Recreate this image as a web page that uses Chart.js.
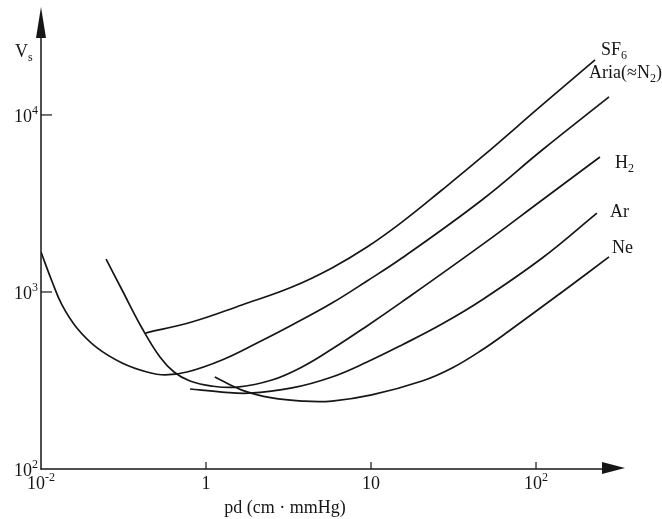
<!DOCTYPE html>
<html>
<head>
<meta charset="utf-8">
<script src="https://cdn.jsdelivr.net/npm/chart.js@4.4.1/dist/chart.umd.min.js"></script>
<style>
  html, body { margin: 0; padding: 0; background: #fff; }
  #wrap { width: 662px; height: 519px; position: relative; }
</style>
</head>
<body>
<div id="wrap"><canvas id="paschen" width="662" height="519"></canvas></div>
<script>
// Paschen curves: breakdown voltage Vs against pd (cm · mmHg), log-log axes.

// Tick labels ("^" marks the exponent)
const xTickValues = [0.1, 1, 10, 100];
const xTickLabels = ['10^-2', '1', '10', '10^2'];
const yTickValues = [100, 1000, 10000];
const yTickLabels = ['10^2', '10^3', '10^4'];

// Gas names ("_" marks a subscript)
const gasNames = ['SF_6', 'Aria(≈N_2)', 'H_2', 'Ar', 'Ne'];

// pd (cm · mmHg) and Vs (V) for each gas
const pdSF6 = [0.43, 0.82, 1.65, 3.32, 5.8, 9.46, 15.4, 26.9, 47, 109, 228];
const vsSF6 = [586, 677, 845, 1067, 1368, 1795, 2483, 3767, 5790, 11400, 20500];

const pdAir = [0.1, 0.117, 0.134, 0.165, 0.219, 0.31, 0.439, 0.565, 0.767, 1.25, 2.04, 3.32, 5.8, 9.46, 15.4, 47, 109, 277];
const vsAir = [1680, 1139, 845, 626, 483, 397, 353, 340, 353, 413, 515, 651, 866, 1154, 1555, 3310, 6340, 12650];

const pdH2 = [0.248, 0.31, 0.409, 0.526, 0.64, 0.8, 1.087, 1.54, 2.51, 3.82, 5.8, 9.46, 15.4, 47, 109, 244];
const vsH2 = [1535, 1026, 626, 429, 353, 314, 294, 290, 318, 377, 476, 643, 879, 1845, 3310, 5790];

const pdAr = [0.8, 1.25, 1.82, 3.32, 5.8, 9.46, 15.4, 26.9, 47, 109, 234];
const vsAr = [283, 272, 268, 287, 331, 402, 502, 659, 901, 1555, 2790];

const pdNe = [1.13, 1.65, 2.51, 3.82, 5.8, 10.1, 20.4, 31, 47, 68.6, 144, 277];
const vsNe = [331, 279, 252, 242, 242, 262, 314, 372, 470, 602, 1000, 1578];

const seriesPd = [pdSF6, pdAir, pdH2, pdAr, pdNe];
const seriesVs = [vsSF6, vsAir, vsH2, vsAr, vsNe];

// where each gas name sits relative to the end of its curve (px)
const nameOffsets = [[6, -5], [-20, -19], [15, 11], [13, 4], [3, -4]];

const INK = '#161616';
const SERIF = '"Liberation Serif", "DejaVu Serif", serif';
const X_MIN = 0.1, X_MAX = 356, Y_MIN = 100, Y_MAX = 41800;

function pairs(xs, ys) { return xs.map((v, i) => ({ x: v, y: ys[i] })); }

// draws text where "^" starts a superscript and "_" a subscript
function richText(ctx, text, x, y, size, align) {
  const parts = [];
  const re = /([\^_])([^()\^_]+)|([^\^_]+)/g;
  let m;
  while ((m = re.exec(text)) !== null) {
    if (m[1]) parts.push({ t: m[2], k: m[1] });
    else parts.push({ t: m[3], k: '' });
  }
  const small = Math.round(size * 0.64);
  const widths = parts.map(p => {
    ctx.font = (p.k ? small : size) + 'px ' + SERIF;
    return ctx.measureText(p.t).width;
  });
  const total = widths.reduce((a, b) => a + b, 0);
  let cx = x;
  if (align === 'center') cx = x - total / 2;
  else if (align === 'right') cx = x - total;
  ctx.textAlign = 'left';
  ctx.textBaseline = 'alphabetic';
  parts.forEach((p, i) => {
    ctx.font = (p.k ? small : size) + 'px ' + SERIF;
    let dy = 0;
    if (p.k === '^') dy = -size * 0.42;
    if (p.k === '_') dy = size * 0.22;
    ctx.fillText(p.t, cx, y + dy);
    cx += widths[i];
  });
}

const axesPlugin = {
  id: 'paschenAxes',
  afterDraw(chart) {
    const { ctx, chartArea: a, scales: { x, y } } = chart;
    const x0 = x.getPixelForValue(X_MIN);
    const y0 = y.getPixelForValue(Y_MIN);
    ctx.save();
    ctx.strokeStyle = INK;
    ctx.fillStyle = INK;
    ctx.lineWidth = 1.5;

    // vertical axis with arrow
    ctx.beginPath(); ctx.moveTo(x0, y0 + 0.5); ctx.lineTo(x0, a.top + 20); ctx.stroke();
    ctx.beginPath();
    ctx.moveTo(x0, a.top + 2);
    ctx.lineTo(x0 - 5, a.top + 33);
    ctx.lineTo(x0 + 5, a.top + 33);
    ctx.closePath(); ctx.fill();

    // horizontal axis with arrow
    ctx.beginPath(); ctx.moveTo(x0 - 0.5, y0); ctx.lineTo(a.right - 12, y0); ctx.stroke();
    ctx.beginPath();
    ctx.moveTo(a.right - 2, y0 - 1);
    ctx.lineTo(a.right - 25, y0 - 7);
    ctx.lineTo(a.right - 25, y0 + 5);
    ctx.closePath(); ctx.fill();

    // ticks
    ctx.lineWidth = 1.2;
    yTickValues.forEach(v => {
      if (v === Y_MIN) return;
      const py = y.getPixelForValue(v);
      ctx.beginPath(); ctx.moveTo(x0, py); ctx.lineTo(x0 + 11, py); ctx.stroke();
    });
    xTickValues.forEach(v => {
      if (v === X_MIN) return;
      const px = x.getPixelForValue(v);
      ctx.beginPath(); ctx.moveTo(px, y0); ctx.lineTo(px, y0 - 7); ctx.stroke();
    });

    // tick labels
    yTickValues.forEach((v, i) => {
      const py = y.getPixelForValue(v);
      richText(ctx, yTickLabels[i], x0 - 3, py + 7, 18, 'right');
    });
    xTickValues.forEach((v, i) => {
      const px = x.getPixelForValue(v);
      richText(ctx, xTickLabels[i], px, y0 + 20, 18, 'center');
    });

    // axis titles
    richText(ctx, 'V_s', 15, 57, 18, 'left');
    richText(ctx, 'pd (cm · mmHg)', 285, 513, 18, 'center');

    // gas names at the curve ends
    chart.data.datasets.forEach((ds, i) => {
      const last = ds.data[ds.data.length - 1];
      const px = x.getPixelForValue(last.x) + nameOffsets[i][0];
      const py = y.getPixelForValue(last.y) + nameOffsets[i][1];
      richText(ctx, gasNames[i], px, py, 18, 'left');
    });
    ctx.restore();
  }
};

new Chart(document.getElementById('paschen'), {
  type: 'scatter',
  data: {
    datasets: seriesPd.map((pd, i) => ({
      label: gasNames[i],
      data: pairs(pd, seriesVs[i]),
      showLine: true,
      borderColor: INK,
      borderWidth: 1.7,
      pointRadius: 0,
      fill: false,
      tension: 0.4
    }))
  },
  options: {
    responsive: false,
    animation: false,
    layout: { padding: { left: 41, right: 35, top: 5, bottom: 50 } },
    scales: {
      x: { type: 'logarithmic', min: X_MIN, max: X_MAX, display: false },
      y: { type: 'logarithmic', min: Y_MIN, max: Y_MAX, display: false }
    },
    plugins: { legend: { display: false }, tooltip: { enabled: false } }
  },
  plugins: [axesPlugin]
});
</script>
</body>
</html>
